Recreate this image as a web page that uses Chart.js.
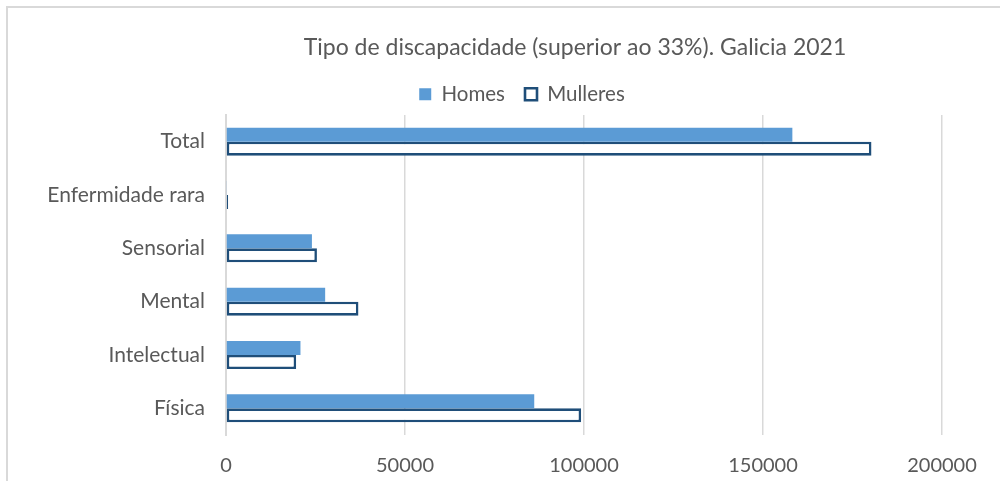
<!DOCTYPE html>
<html lang="gl">
<head>
<meta charset="utf-8">
<title>Tipo de discapacidade (superior ao 33%). Galicia 2021</title>
<script src="https://cdn.jsdelivr.net/npm/chart.js@4.4.1/dist/chart.umd.min.js"></script>
<style>
  html, body { margin: 0; padding: 0; background: #ffffff; }
  #wrap { position: relative; width: 1000px; height: 481px; overflow: hidden; }
  #frame {
    position: absolute; left: 6px; top: 6px; width: 1200px; height: 700px;
    border: 2px solid #d9d9d9; box-sizing: border-box;
  }
  #chart { position: absolute; left: 0; top: 0; }
</style>
</head>
<body>
<div id="wrap">
  <div id="frame"></div>
  <canvas id="chart" width="1000" height="481"></canvas>
</div>
<script>
// Discapacidade recoñecida (grao > 33%) por tipo e sexo, Galicia 2021
const chartTitle = 'Tipo de discapacidade (superior ao 33%). Galicia 2021';
const categories = ['Total', 'Enfermidade rara', 'Sensorial', 'Mental', 'Intelectual', 'Física'];
const homes    = [158200, 180, 24000, 27700, 20800, 86100];
const mulleres = [180300, 600, 25400, 37000, 19600, 99200];
const xTicks = [0, 50000, 100000, 150000, 200000];

const textColor = '#595959';
const fontFamily = 'Lato, "Open Sans", sans-serif';

// Title drawn centred over the plot region
const titlePlugin = {
  id: 'plotTitle',
  afterDraw(chart) {
    const ctx = chart.ctx;
    ctx.save();
    ctx.font = '23px ' + fontFamily;
    ctx.fillStyle = textColor;
    ctx.textAlign = 'center';
    ctx.textBaseline = 'middle';
    ctx.fillText(chartTitle, 575, 48);
    ctx.restore();
  }
};

// Legend row: compact height, items spaced apart, centred at x = 522
const legendPlacementPlugin = {
  id: 'legendPlacement',
  beforeLayout(chart) {
    const lg = chart.legend;
    if (lg && !lg._fitWrapped) {
      const origFit = lg.fit.bind(lg);
      lg.fit = function () {
        origFit();
        this.height = 51;
      };
      lg._fitWrapped = true;
    }
  },
  afterLayout(chart) {
    const lg = chart.legend;
    if (lg) {
      lg.left = 102;
      lg.right = 942;
      lg.width = lg.right - lg.left;
    }
  }
};

new Chart(document.getElementById('chart'), {
  type: 'bar',
  data: {
    labels: categories,
    datasets: [
      {
        label: 'Homes',
        data: homes,
        backgroundColor: '#5b9bd5',
        borderWidth: 0
      },
      {
        label: 'Mulleres',
        data: mulleres,
        backgroundColor: '#ffffff',
        borderColor: '#1f4e79',
        borderWidth: 2.6,
        borderSkipped: false
      }
    ]
  },
  options: {
    indexAxis: 'y',
    responsive: false,
    animation: false,
    devicePixelRatio: 1,
    categoryPercentage: 0.525,
    barPercentage: 1,
    layout: { padding: { top: 64, left: 30, right: 58, bottom: 0 } },
    plugins: {
      title: { display: false },
      tooltip: { enabled: false },
      legend: {
        position: 'top',
        labels: {
          boxWidth: 12,
          boxHeight: 12,
          padding: 20,
          color: textColor,
          font: { family: fontFamily, size: 20.5 }
        }
      }
    },
    scales: {
      x: {
        min: 0,
        max: 200000,
        afterBuildTicks(scale) {
          scale.ticks = xTicks.map(v => ({ value: v }));
        },
        afterFit(scale) { scale.height = 46; },
        grid: { color: '#d9d9d9', lineWidth: 1.5, drawTicks: false },
        border: { display: false },
        ticks: {
          padding: 19,
          color: textColor,
          font: { family: fontFamily, size: 20 },
          callback: v => String(v)
        }
      },
      y: {
        afterFit(scale) { scale.width = 196; },
        grid: { color: 'rgba(0,0,0,0)', drawTicks: false },
        border: { display: true, color: '#d9d9d9', width: 2 },
        ticks: {
          padding: 21,
          color: textColor,
          font: { family: fontFamily, size: 21 }
        }
      }
    }
  },
  plugins: [titlePlugin, legendPlacementPlugin]
});
</script>
</body>
</html>
